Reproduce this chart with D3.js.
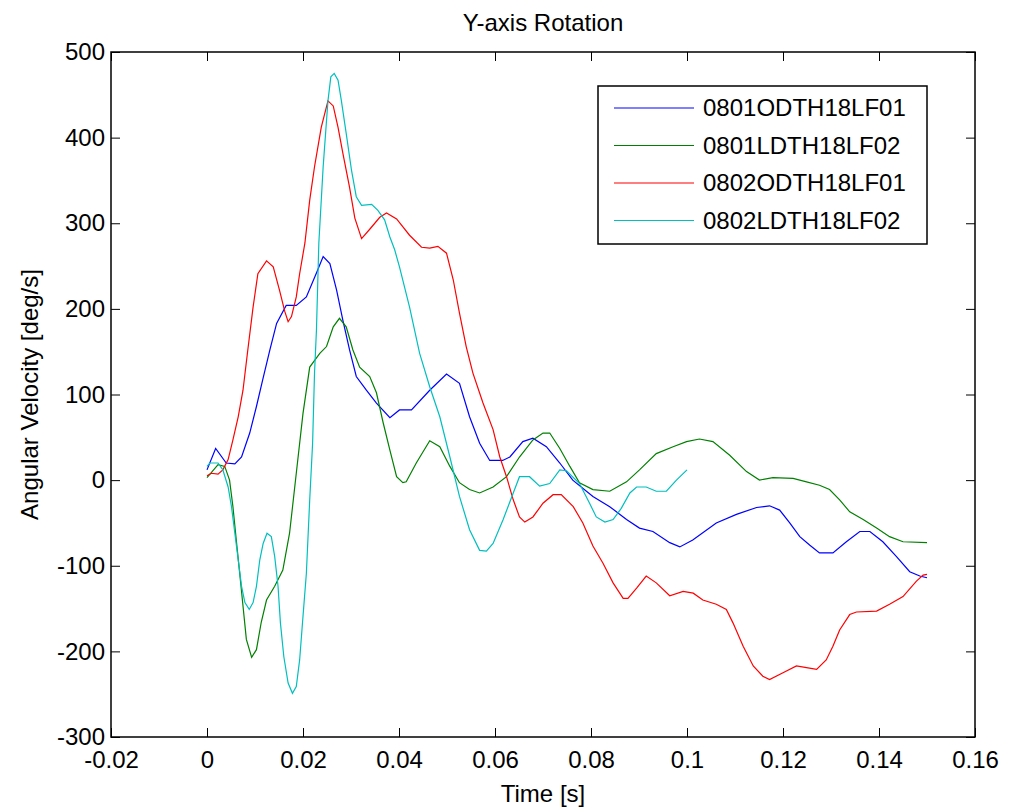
<!DOCTYPE html>
<html>
<head>
<meta charset="utf-8">
<script src="https://cdn.jsdelivr.net/npm/d3@7"></script>
<style>
  body { margin: 0; background: #fff; }
  text { font-family: "Liberation Sans", Arial, sans-serif; fill: #000; }
</style>
</head>
<body>
<div id="chart"></div>
<script>
// series names (legend order)
var seriesNames = ["0801ODTH18LF01", "0801LDTH18LF02", "0802ODTH18LF01", "0802LDTH18LF02"];
var seriesColors = ["#0000ff", "#008000", "#ff0000", "#00bfbf"];

// 0801ODTH18LF01
var t1 = [0, 0.0018, 0.004, 0.0058, 0.0072, 0.0089, 0.0103, 0.0116, 0.0131, 0.0145, 0.0165, 0.0186, 0.0207, 0.0228, 0.0242, 0.0256, 0.027, 0.0283, 0.0297, 0.0311, 0.0332, 0.0353, 0.0381, 0.0401, 0.0426, 0.0464, 0.0499, 0.0526, 0.0547, 0.0568, 0.0589, 0.0616, 0.0631, 0.0658, 0.0679, 0.0707, 0.0735, 0.0762, 0.0804, 0.0839, 0.0874, 0.0901, 0.0929, 0.0964, 0.0985, 0.1012, 0.1061, 0.1103, 0.1145, 0.1172, 0.1193, 0.1214, 0.1235, 0.1256, 0.1276, 0.1304, 0.1332, 0.136, 0.1381, 0.1408, 0.1436, 0.1464, 0.1485, 0.15];
var v1 = [12, 37, 20, 19, 27, 55, 86, 117, 152, 183, 204, 204, 214, 242, 261, 253, 222, 187, 152, 121, 105, 90, 73, 82, 82, 105, 124, 113, 74, 43, 23, 23, 27, 45, 49, 39, 20, 0, -19, -31, -46, -56, -60, -73, -78, -70, -50, -40, -32, -30, -35, -50, -66, -76, -85, -85, -72, -60, -60, -72, -89, -107, -112, -114];

// 0801LDTH18LF02
var t2 = [0, 0.0023, 0.0037, 0.0047, 0.0054, 0.0061, 0.0068, 0.0075, 0.0082, 0.0093, 0.0103, 0.0113, 0.0124, 0.0141, 0.0158, 0.0172, 0.0186, 0.02, 0.0214, 0.0235, 0.0249, 0.0263, 0.0276, 0.029, 0.0304, 0.0318, 0.0339, 0.0353, 0.0367, 0.0381, 0.0395, 0.0408, 0.0415, 0.0436, 0.0464, 0.0485, 0.0506, 0.0526, 0.0547, 0.0568, 0.0596, 0.0624, 0.0651, 0.0679, 0.07, 0.0714, 0.0735, 0.0756, 0.0776, 0.0804, 0.0839, 0.0874, 0.0901, 0.0936, 0.0971, 0.0999, 0.1026, 0.1054, 0.1089, 0.1124, 0.1151, 0.1179, 0.1221, 0.1249, 0.1276, 0.1297, 0.1318, 0.1339, 0.1367, 0.1395, 0.1422, 0.145, 0.15];
var v2 = [3, 18, 16, 0, -31, -70, -108, -147, -186, -207, -198, -166, -140, -124, -105, -62, 8, 78, 132, 148, 156, 179, 189, 179, 152, 132, 121, 102, 67, 35, 4, -3, -2, 20, 46, 39, 16, -3, -11, -15, -8, 4, 27, 47, 55, 55, 37, 16, -3, -11, -13, -2, 12, 31, 39, 45, 48, 45, 29, 10, 0, 3, 2, -2, -6, -11, -23, -37, -46, -56, -66, -72, -73];

// 0802ODTH18LF01
var t3 = [0, 0.0009, 0.0023, 0.0033, 0.0044, 0.0054, 0.0065, 0.0075, 0.0085, 0.0096, 0.0106, 0.0124, 0.0138, 0.0151, 0.0162, 0.0169, 0.0176, 0.0186, 0.0193, 0.0204, 0.0214, 0.0224, 0.0238, 0.0252, 0.0263, 0.0273, 0.0283, 0.0297, 0.0308, 0.0322, 0.0339, 0.036, 0.0374, 0.0395, 0.0422, 0.0447, 0.0464, 0.0481, 0.0499, 0.0513, 0.0526, 0.054, 0.0554, 0.0575, 0.0596, 0.061, 0.0624, 0.0638, 0.0651, 0.0662, 0.0679, 0.07, 0.0721, 0.0738, 0.0763, 0.0783, 0.0804, 0.0825, 0.0846, 0.0867, 0.0877, 0.0895, 0.0915, 0.0936, 0.0964, 0.0992, 0.1013, 0.1033, 0.1061, 0.1082, 0.1096, 0.1117, 0.1138, 0.1158, 0.1172, 0.12, 0.1228, 0.1249, 0.127, 0.129, 0.1304, 0.1318, 0.1339, 0.1353, 0.1395, 0.1422, 0.145, 0.1478, 0.1492, 0.15];
var v3 = [5, 8, 7, 12, 24, 47, 74, 105, 152, 202, 241, 256, 249, 222, 197, 185, 191, 214, 241, 277, 327, 366, 412, 443, 437, 412, 382, 342, 306, 282, 293, 307, 312, 305, 286, 272, 271, 273, 265, 234, 195, 156, 125, 90, 59, 27, 4, -23, -43, -49, -43, -27, -17, -17, -31, -50, -77, -97, -120, -138, -138, -126, -112, -120, -135, -130, -132, -140, -145, -151, -167, -194, -217, -229, -233, -225, -217, -219, -221, -210, -194, -175, -157, -154, -153, -145, -136, -118, -111, -110];

// 0802LDTH18LF02
var t4 = [0, 0.0006, 0.0023, 0.0033, 0.0044, 0.0051, 0.0058, 0.0065, 0.0072, 0.0079, 0.0088, 0.0096, 0.0103, 0.011, 0.0117, 0.0125, 0.0134, 0.0141, 0.0148, 0.0153, 0.016, 0.0169, 0.0178, 0.0186, 0.0193, 0.02, 0.0207, 0.0214, 0.022, 0.0224, 0.0228, 0.0233, 0.0242, 0.0252, 0.0258, 0.0265, 0.0273, 0.028, 0.029, 0.0301, 0.0311, 0.0322, 0.0343, 0.0356, 0.037, 0.0381, 0.0391, 0.0401, 0.0422, 0.0443, 0.0464, 0.0485, 0.0506, 0.0526, 0.0547, 0.0568, 0.0582, 0.0596, 0.0617, 0.0638, 0.0651, 0.0672, 0.0693, 0.0714, 0.0735, 0.0749, 0.0776, 0.0797, 0.0811, 0.0829, 0.0846, 0.0863, 0.0881, 0.0895, 0.0915, 0.0936, 0.0957, 0.0978, 0.1];
var v4 = [16, 20, 20, 12, -8, -31, -62, -93, -124, -143, -151, -143, -124, -93, -74, -62, -66, -89, -124, -167, -206, -237, -249, -241, -210, -159, -109, -23, 43, 125, 175, 277, 366, 443, 471, 475, 467, 443, 405, 362, 331, 321, 322, 315, 304, 284, 269, 249, 202, 148, 109, 74, 27, -19, -58, -82, -83, -74, -46, -15, 4, 4, -7, -4, 12, 11, -4, -27, -43, -49, -46, -33, -15, -8, -8, -13, -13, 0, 12];

var seriesT = [t1, t2, t3, t4];
var seriesV = [v1, v2, v3, v4];

var xTicks = [-0.02, 0, 0.02, 0.04, 0.06, 0.08, 0.1, 0.12, 0.14, 0.16];
var yTicks = [-300, -200, -100, 0, 100, 200, 300, 400, 500];

// chart area
var svgWidth = 1012;
var svgHeight = 810;
var margin = { top: 52, right: 37, bottom: 73, left: 111 };
var width = svgWidth - margin.left - margin.right;
var height = svgHeight - margin.top - margin.bottom;

var svg = d3.select("#chart")
  .append("svg")
  .attr("width", svgWidth)
  .attr("height", svgHeight);

var chartGroup = svg.append("g")
  .attr("transform", `translate(${margin.left}, ${margin.top})`);

var xScale = d3.scaleLinear().domain([-0.02, 0.16]).range([0, width]);
var yScale = d3.scaleLinear().domain([-300, 500]).range([height, 0]);

// axes: ticks pointing inwards, mirrored on top/right like a boxed plot
var tickLen = 9;
// plain hyphen for negatives, like the original
var fmt = d => String(+d.toFixed(4));

chartGroup.append("g")
  .attr("transform", `translate(0, ${height})`)
  .call(d3.axisBottom(xScale).tickValues(xTicks).tickSizeInner(-tickLen).tickSizeOuter(0).tickPadding(14).tickFormat(fmt))
  .call(g => g.select(".domain").remove());

chartGroup.append("g")
  .call(d3.axisTop(xScale).tickValues(xTicks).tickSizeInner(-tickLen).tickSizeOuter(0).tickFormat(""))
  .call(g => g.select(".domain").remove());

chartGroup.append("g")
  .call(d3.axisLeft(yScale).tickValues(yTicks).tickSizeInner(-tickLen).tickSizeOuter(0).tickPadding(6).tickFormat(fmt))
  .call(g => g.select(".domain").remove());

chartGroup.append("g")
  .attr("transform", `translate(${width}, 0)`)
  .call(d3.axisRight(yScale).tickValues(yTicks).tickSizeInner(-tickLen).tickSizeOuter(0).tickFormat(""))
  .call(g => g.select(".domain").remove());

chartGroup.selectAll(".tick line").attr("stroke", "#000");
chartGroup.selectAll(".tick text")
  .style("font-size", "24px")
  .style("font-family", "'Liberation Sans', Arial, sans-serif");

// lines
var line = d3.line()
  .x(d => xScale(d[0]))
  .y(d => yScale(d[1]));

seriesNames.forEach(function (name, i) {
  var pts = seriesT[i].map((t, j) => [t, seriesV[i][j]]);
  chartGroup.append("path")
    .datum(pts)
    .attr("fill", "none")
    .attr("stroke", seriesColors[i])
    .attr("stroke-width", 1.2)
    .attr("d", line);
});

// plot box
chartGroup.append("rect")
  .attr("width", width)
  .attr("height", height)
  .attr("fill", "none")
  .attr("stroke", "#000")
  .attr("stroke-width", 1.5);

// legend
var legend = svg.append("g").attr("transform", "translate(598, 86)");
legend.append("rect")
  .attr("width", 329)
  .attr("height", 158)
  .attr("fill", "#fff")
  .attr("stroke", "#000")
  .attr("stroke-width", 1.5);

seriesNames.forEach(function (name, i) {
  var y = 22 + i * 37.5;
  legend.append("line")
    .attr("x1", 16).attr("x2", 96)
    .attr("y1", y).attr("y2", y)
    .attr("stroke", seriesColors[i])
    .attr("stroke-width", 1.2);
  legend.append("text")
    .attr("x", 105)
    .attr("y", y)
    .attr("dy", "0.35em")
    .style("font-size", "24px")
    .text(name);
});

// title and axis labels
svg.append("text")
  .attr("x", margin.left + width / 2)
  .attr("y", 31)
  .attr("text-anchor", "middle")
  .style("font-size", "24px")
  .text("Y-axis Rotation");

svg.append("text")
  .attr("x", margin.left + width / 2)
  .attr("y", 802)
  .attr("text-anchor", "middle")
  .style("font-size", "24px")
  .text("Time [s]");

svg.append("text")
  .attr("transform", "rotate(-90)")
  .attr("x", -(margin.top + height / 2))
  .attr("y", 38)
  .attr("text-anchor", "middle")
  .style("font-size", "24px")
  .text("Angular Velocity [deg/s]");
</script>
</body>
</html>
